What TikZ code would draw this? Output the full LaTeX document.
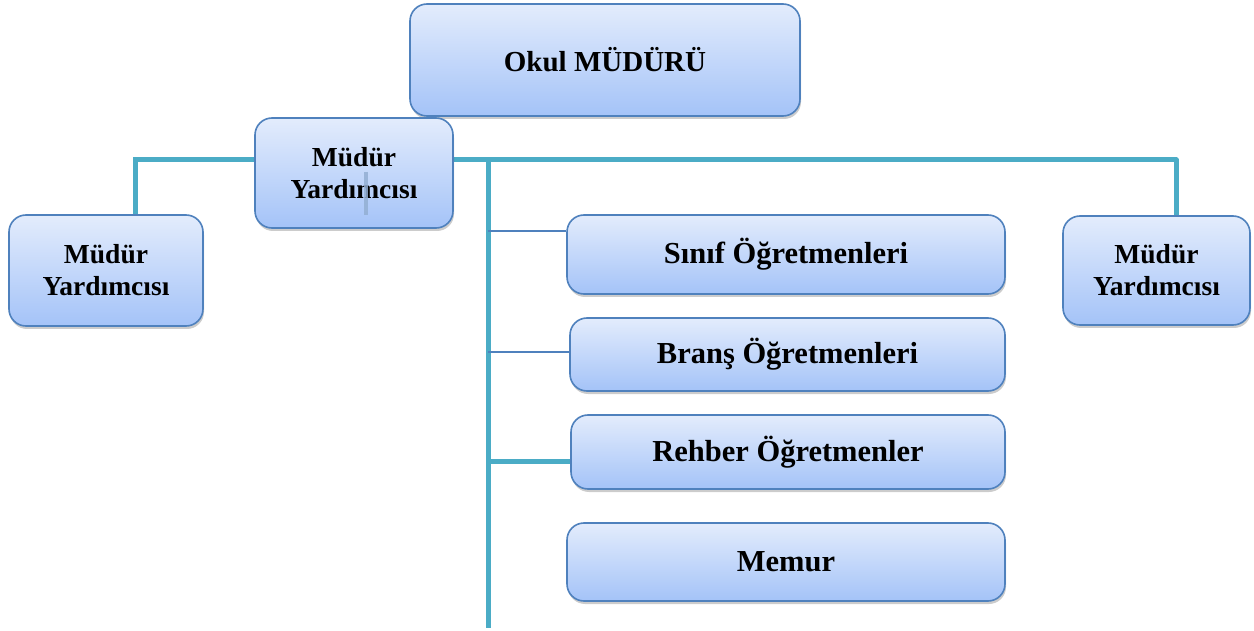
\documentclass[tikz,border=0pt]{standalone}
\usepackage{fontspec}
\setmainfont{Liberation Serif}
\usetikzlibrary{shadows,backgrounds}
\definecolor{boxtop}{HTML}{E3ECFC}
\definecolor{boxbot}{HTML}{A4C3F8}
\definecolor{boxedge}{HTML}{4F81BD}
\definecolor{teal}{HTML}{4BACC6}
\definecolor{thinblue}{HTML}{4F81BD}
\definecolor{barcol}{HTML}{93AFD3}
\tikzset{
  orgbox/.style={rectangle, rounded corners=17pt, draw=boxedge, line width=1.6pt,
    top color=boxtop, bottom color=boxbot, inner sep=0pt, align=center,
    font=\bfseries, text=black,
    drop shadow={shadow xshift=1pt, shadow yshift=-3pt, fill=black, opacity=0.2}},
  bigtxt/.style={font=\fontsize{30.5}{34}\selectfont\bfseries},
  mytxt/.style={font=\fontsize{27.5}{32}\selectfont\bfseries},
  thickline/.style={draw=teal, line width=5pt},
  thinline/.style={draw=thinblue, line width=1.5pt},
  barline/.style={draw=barcol, line width=4pt, opacity=0.85}
}
\begin{document}
\begin{tikzpicture}[x=1pt,y=-1pt]
\useasboundingbox (0,0) rectangle (1254,631);
\coordinate (jl) at (135,160);
\coordinate (jr) at (1176,160);
\coordinate (t0) at (488,160);
\coordinate (tend) at (488,628);
\coordinate (a1) at (488,231);
\coordinate (a2) at (488,352);
\coordinate (a3) at (488,461);
\path
  (605,60) node[orgbox, bigtxt, minimum width=390pt, minimum height=112pt] (okul) {\fontsize{29}{34}\selectfont Okul MÜDÜRÜ}
  (354,173) node[orgbox, mytxt, minimum width=198pt, minimum height=110pt] (mym) {Müdür\\Yardımcısı}
  (106,270.5) node[orgbox, mytxt, minimum width=194pt, minimum height=111pt] (myl) {Müdür\\Yardımcısı}
  (1156.5,270.5) node[orgbox, mytxt, minimum width=187pt, minimum height=109pt] (myr) {Müdür\\Yardımcısı}
  (786,254.5) node[orgbox, bigtxt, minimum width=438pt, minimum height=79pt] (sinif) {Sınıf Öğretmenleri}
  (787.5,354.5) node[orgbox, bigtxt, minimum width=435pt, minimum height=73pt] (brans) {Branş Öğretmenleri}
  (788,452) node[orgbox, bigtxt, minimum width=434pt, minimum height=74pt] (rehber) {Rehber Öğretmenler}
  (786,562) node[orgbox, bigtxt, minimum width=438pt, minimum height=78pt] (memur) {Memur};
\draw[barline] (366,172) -- (366,215);
\begin{scope}[on background layer]
\draw[thickline] (mym.west |- jl) -- (jl) -- (jl |- myl.north);
\draw[thickline, line join=round] (mym.east |- jr) -- (jr) -- (jr |- myr.north);
\draw[thickline] (t0) -- (tend);
\draw[thinline] (a1) -- (a1 -| sinif.west);
\draw[thinline] (a2) -- (a2 -| brans.west);
\draw[thickline] (a3) -- (a3 -| rehber.west);
\end{scope}
\end{tikzpicture}
\end{document}
